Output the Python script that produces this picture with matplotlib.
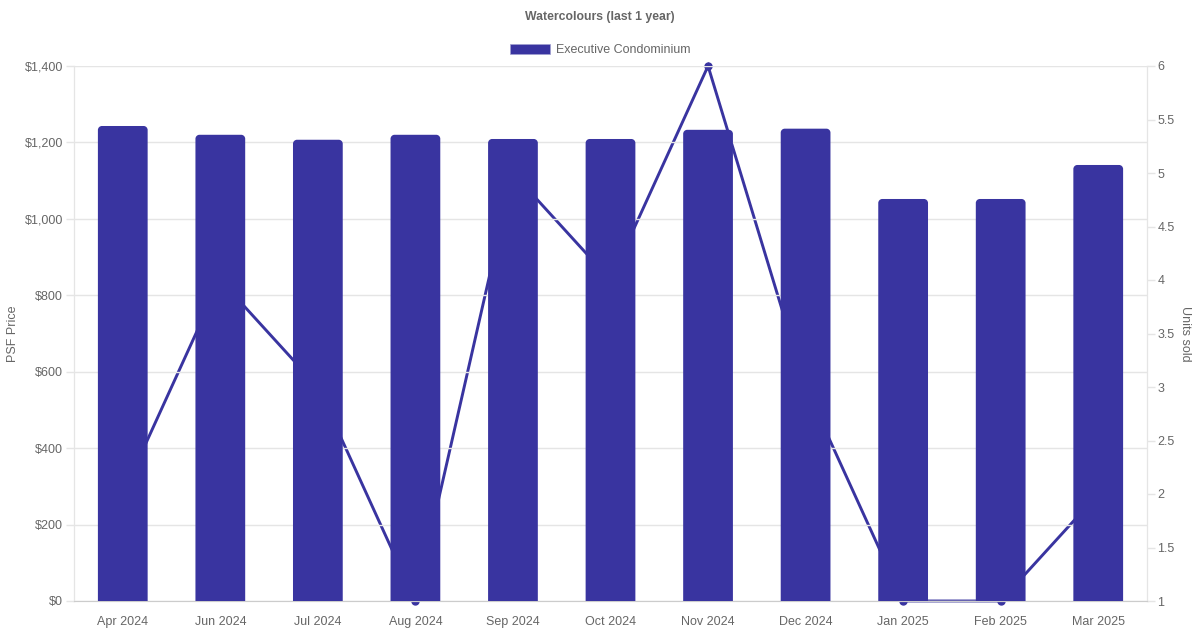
import matplotlib
matplotlib.use('Agg')
import matplotlib.pyplot as plt
from matplotlib.path import Path
from matplotlib.patches import PathPatch, Patch
from matplotlib.ticker import FuncFormatter, MultipleLocator

months = ['Apr 2024', 'Jun 2024', 'Jul 2024', 'Aug 2024', 'Sep 2024', 'Oct 2024',
          'Nov 2024', 'Dec 2024', 'Jan 2025', 'Feb 2025', 'Mar 2025']
psf_price = [1243, 1220, 1207, 1220, 1209, 1209, 1233, 1236, 1052, 1052, 1141]
units_sold = [2, 4, 3, 1, 5, 4, 6, 3, 1, 1, 2]

COLOR = '#3934a0'
TEXT = '#666666'
GRID = '#e5e5e5'

plt.rcParams['font.family'] = ['Liberation Sans', 'DejaVu Sans']


def rounded_bar(x0, x1, top, rx, ry):
    """ bar path with rounded top corners (rx, ry in data units) """
    k = 0.5523
    verts = [(x0, 0), (x0, top - ry),
             (x0, top - ry + k * ry), (x0 + rx - k * rx, top), (x0 + rx, top),
             (x1 - rx, top),
             (x1 - rx + k * rx, top), (x1, top - ry + k * ry), (x1, top - ry),
             (x1, 0), (x0, 0)]
    codes = [Path.MOVETO, Path.LINETO,
             Path.CURVE4, Path.CURVE4, Path.CURVE4,
             Path.LINETO,
             Path.CURVE4, Path.CURVE4, Path.CURVE4,
             Path.LINETO, Path.CLOSEPOLY]
    return Path(verts, codes)


fig = plt.figure(figsize=(12, 6.3), dpi=100)
ax = fig.add_axes([74 / 1200, 1 - 601 / 630, (1147 - 74) / 1200, (601 - 66) / 630])
ax2 = ax.twinx()

x = list(range(len(months)))

# line (units sold) sits behind the bars
ax.set_zorder(2)
ax2.set_zorder(1)
ax.patch.set_visible(False)

ax2.plot(x, units_sold, color=COLOR, linewidth=2.1, marker='o', markersize=5,
         solid_joinstyle='miter', clip_on=False)
ax2.set_ylim(1, 6)
ax2.yaxis.set_major_locator(MultipleLocator(0.5))
ax2.yaxis.set_major_formatter(FuncFormatter(lambda v, p: '{:g}'.format(v)))

# bars (psf price)
ax.set_xlim(-0.5, len(months) - 0.5)
ax.set_ylim(0, 1400)
width = 0.51
rx = 4 / 97.5
ry = 4 * 1400 / 535
for xi, val in zip(x, psf_price):
    path = rounded_bar(xi - width / 2, xi + width / 2, val, rx, ry)
    ax.add_patch(PathPatch(path, facecolor=COLOR, edgecolor='none', zorder=3))

ax.set_xticks(x)
ax.set_xticklabels(months)
ax.yaxis.set_major_locator(MultipleLocator(200))
ax.yaxis.set_major_formatter(FuncFormatter(lambda v, p: '${:,.0f}'.format(v)))
ax.grid(axis='y', color=GRID, linewidth=1, zorder=0)
ax.set_axisbelow(True)

for a in (ax, ax2):
    a.spines['top'].set_visible(False)
    for side in ('left', 'right', 'bottom'):
        a.spines[side].set_color(GRID)
    a.tick_params(colors=GRID, labelcolor=TEXT, labelsize=9, length=6, width=1)
ax.spines['bottom'].set_color('#cccccc')
ax.tick_params(axis='x', length=0, pad=11)
ax.tick_params(axis='y', pad=2)
ax2.tick_params(axis='y', pad=1.5)

ax.set_ylabel('PSF Price', color=TEXT, fontsize=9, labelpad=4)
ax2.set_ylabel('Units sold', color=TEXT, fontsize=9, rotation=270, labelpad=12)

fig.text(0.5, 1 - 17 / 630, 'Watercolours (last 1 year)', ha='center', va='center',
         fontsize=8.8, fontweight='bold', color=TEXT)
handle = Patch(facecolor=COLOR, edgecolor='#a0a0d0', linewidth=0.5)
fig.legend([handle], ['Executive Condominium'], loc='center',
           bbox_to_anchor=(0.5, 1 - 50 / 630), frameon=False, fontsize=9,
           labelcolor=TEXT, handlelength=3.2, handleheight=0.9, handletextpad=0.5)

fig.savefig('out.png', dpi=100)
